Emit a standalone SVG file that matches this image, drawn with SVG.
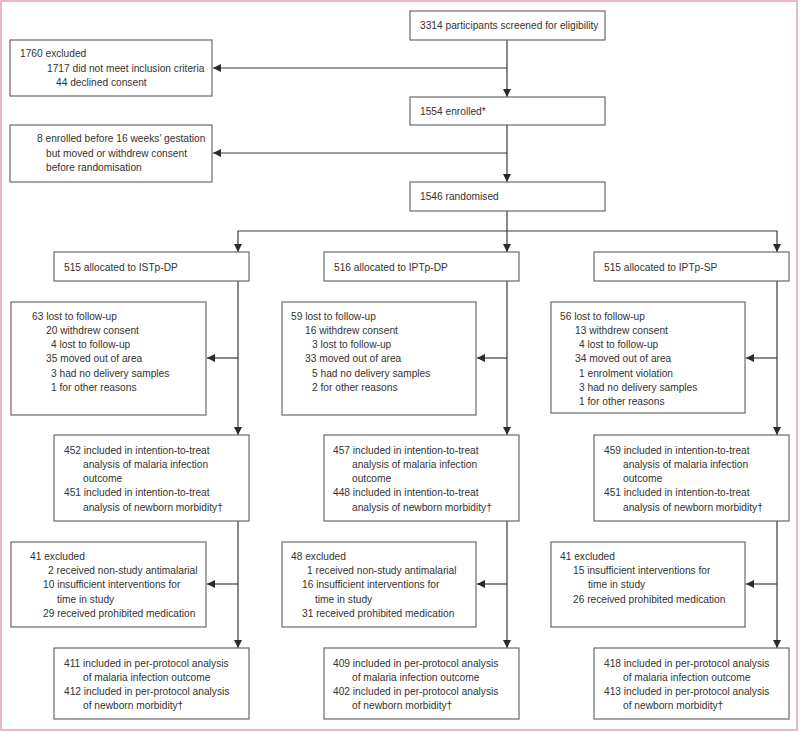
<svg xmlns="http://www.w3.org/2000/svg" width="800" height="732" viewBox="0 0 800 732">
<defs>
<marker id="ah" markerUnits="userSpaceOnUse" markerWidth="9" markerHeight="9" refX="8" refY="4" orient="auto">
<path d="M0,0 L8,4 L0,8 z" fill="#2a2a2a"/>
</marker>
<style>
.b{fill:#fff;stroke:#6a6a6a;stroke-width:1.2}
.c{fill:none;stroke:#3a3a3a;stroke-width:1.2;marker-end:url(#ah)}
text{font-family:"Liberation Sans",Arial,sans-serif;font-size:10.2px;fill:#333}
</style>
</defs>
<rect x="0" y="0" width="800" height="732" fill="#fff"/>
<rect x="1" y="1" width="796" height="729" fill="none" stroke="#e8b7ca" stroke-width="2"/>

<g id="connectors">
<path class="c" d="M507,40 V97"/>
<path class="c" d="M507,68 H213"/>
<path class="c" d="M507,125 V182"/>
<path class="c" d="M507,153 H213"/>
<path class="c" d="M507,211 V252"/>
<path class="c" d="M507,231 H238 V252"/>
<path class="c" d="M507,231 H777 V252"/>
<path class="c" d="M238,281 V435"/>
<path class="c" d="M238,358 H207"/>
<path class="c" d="M238,521 V648"/>
<path class="c" d="M238,584 H207"/>
<path class="c" d="M507,281 V435"/>
<path class="c" d="M507,358 H477"/>
<path class="c" d="M507,521 V648"/>
<path class="c" d="M507,584 H477"/>
<path class="c" d="M777,281 V435"/>
<path class="c" d="M777,358 H746"/>
<path class="c" d="M777,521 V648"/>
<path class="c" d="M777,584 H746"/>
</g>

<g id="screened"><rect class="b" x="410" y="11" width="195" height="29"/>
<text x="420" y="29">3314 participants screened for eligibility</text></g>

<g id="enrolled"><rect class="b" x="410" y="97" width="195" height="28"/>
<text x="420" y="115">1554 enrolled*</text></g>

<g id="randomised"><rect class="b" x="410" y="182" width="195" height="29"/>
<text x="420" y="200">1546 randomised</text></g>

<g id="excluded1"><rect class="b" x="10" y="40" width="202" height="56"/>
<text x="20" y="57">1760 excluded</text>
<text x="47" y="72">1717 did not meet inclusion criteria</text>
<text x="56" y="86">44 declined consent</text></g>

<g id="excluded2"><rect class="b" x="10" y="125" width="202" height="57"/>
<text x="37" y="142">8 enrolled before 16 weeks’ gestation</text>
<text x="46" y="157">but moved or withdrew consent</text>
<text x="46" y="171">before randomisation</text></g>

<g id="alloc-istp"><rect class="b" x="54" y="252" width="195" height="29"/>
<text x="64" y="271">515 allocated to ISTp-DP</text></g>
<g id="alloc-iptpdp"><rect class="b" x="324" y="252" width="195" height="29"/>
<text x="334" y="271">516 allocated to IPTp-DP</text></g>
<g id="alloc-iptpsp"><rect class="b" x="594" y="252" width="195" height="29"/>
<text x="604" y="271">515 allocated to IPTp-SP</text></g>

<g id="lost-istp"><rect class="b" x="11" y="302" width="195" height="113"/>
<text x="32" y="320">63 lost to follow-up</text>
<text x="46" y="334">20 withdrew consent</text>
<text x="51" y="348">4 lost to follow-up</text>
<text x="46" y="362">35 moved out of area</text>
<text x="51" y="377">3 had no delivery samples</text>
<text x="51" y="391">1 for other reasons</text></g>

<g id="lost-iptpdp"><rect class="b" x="282" y="302" width="194" height="113"/>
<text x="291" y="320">59 lost to follow-up</text>
<text x="305" y="334">16 withdrew consent</text>
<text x="312" y="348">3 lost to follow-up</text>
<text x="305" y="362">33 moved out of area</text>
<text x="312" y="377">5 had no delivery samples</text>
<text x="312" y="391">2 for other reasons</text></g>

<g id="lost-iptpsp"><rect class="b" x="551" y="302" width="194" height="111"/>
<text x="560" y="320">56 lost to follow-up</text>
<text x="575" y="334">13 withdrew consent</text>
<text x="579" y="348">4 lost to follow-up</text>
<text x="575" y="362">34 moved out of area</text>
<text x="579" y="377">1 enrolment violation</text>
<text x="579" y="391">3 had no delivery samples</text>
<text x="579" y="405">1 for other reasons</text></g>

<g id="itt-istp"><rect class="b" x="54" y="435" width="195" height="86"/>
<text x="64" y="454">452 included in intention-to-treat</text>
<text x="83" y="468">analysis of malaria infection</text>
<text x="83" y="482">outcome</text>
<text x="64" y="496">451 included in intention-to-treat</text>
<text x="83" y="511">analysis of newborn morbidity†</text></g>

<g id="itt-iptpdp"><rect class="b" x="324" y="435" width="195" height="86"/>
<text x="333" y="454">457 included in intention-to-treat</text>
<text x="352" y="468">analysis of malaria infection</text>
<text x="352" y="482">outcome</text>
<text x="333" y="496">448 included in intention-to-treat</text>
<text x="352" y="511">analysis of newborn morbidity†</text></g>

<g id="itt-iptpsp"><rect class="b" x="594" y="435" width="195" height="86"/>
<text x="604" y="454">459 included in intention-to-treat</text>
<text x="623" y="468">analysis of malaria infection</text>
<text x="623" y="482">outcome</text>
<text x="604" y="496">451 included in intention-to-treat</text>
<text x="623" y="511">analysis of newborn morbidity†</text></g>

<g id="excl-istp"><rect class="b" x="11" y="542" width="195" height="85"/>
<text x="30" y="560">41 excluded</text>
<text x="48" y="574">2 received non-study antimalarial</text>
<text x="43" y="588">10 insufficient interventions for</text>
<text x="57" y="603">time in study</text>
<text x="43" y="617">29 received prohibited medication</text></g>

<g id="excl-iptpdp"><rect class="b" x="282" y="542" width="194" height="85"/>
<text x="291" y="560">48 excluded</text>
<text x="307" y="574">1 received non-study antimalarial</text>
<text x="302" y="588">16 insufficient interventions for</text>
<text x="315" y="603">time in study</text>
<text x="302" y="617">31 received prohibited medication</text></g>

<g id="excl-iptpsp"><rect class="b" x="551" y="542" width="194" height="85"/>
<text x="560" y="560">41 excluded</text>
<text x="573" y="574">15 insufficient interventions for</text>
<text x="588" y="588">time in study</text>
<text x="573" y="603">26 received prohibited medication</text></g>

<g id="pp-istp"><rect class="b" x="54" y="648" width="195" height="71"/>
<text x="64" y="667">411 included in per-protocol analysis</text>
<text x="83" y="681">of malaria infection outcome</text>
<text x="64" y="695">412 included in per-protocol analysis</text>
<text x="83" y="709">of newborn morbidity†</text></g>

<g id="pp-iptpdp"><rect class="b" x="324" y="648" width="195" height="71"/>
<text x="333" y="667">409 included in per-protocol analysis</text>
<text x="352" y="681">of malaria infection outcome</text>
<text x="333" y="695">402 included in per-protocol analysis</text>
<text x="352" y="709">of newborn morbidity†</text></g>

<g id="pp-iptpsp"><rect class="b" x="594" y="648" width="195" height="71"/>
<text x="604" y="667">418 included in per-protocol analysis</text>
<text x="623" y="681">of malaria infection outcome</text>
<text x="604" y="695">413 included in per-protocol analysis</text>
<text x="623" y="709">of newborn morbidity†</text></g>
</svg>
